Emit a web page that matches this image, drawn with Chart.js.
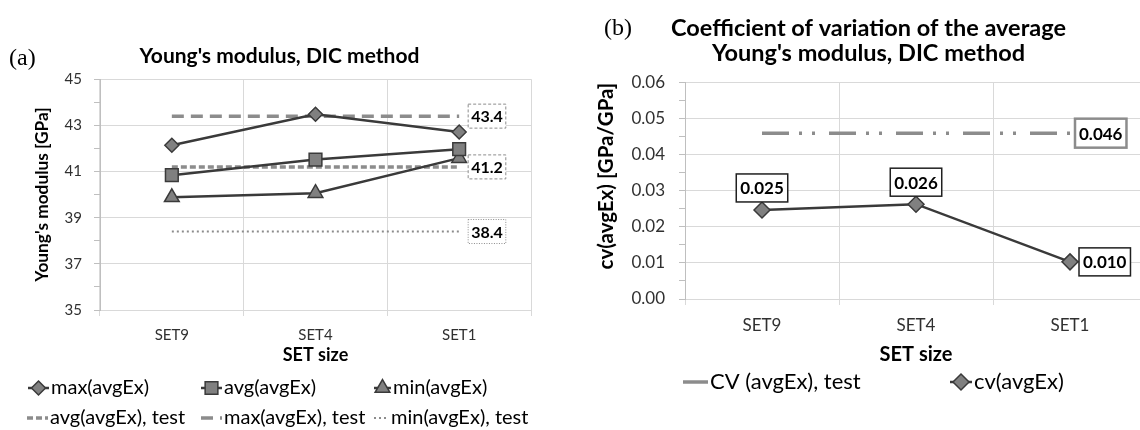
<!DOCTYPE html>
<html>
<head>
<meta charset="utf-8">
<script src="https://cdn.jsdelivr.net/npm/chart.js@4/dist/chart.umd.min.js"></script>
<style>
  html, body { margin: 0; padding: 0; background: #fff; overflow: hidden; }
  body { width: 1140px; height: 430px; position: relative; }
  .wrap { position: absolute; top: 0; width: 580px; height: 430px; }
  #wrapA { left: 0; }
  #wrapB { left: 580px; }
</style>
</head>
<body>
<div class="wrap" id="wrapA"><canvas id="chartA" width="580" height="430"></canvas></div>
<div class="wrap" id="wrapB"><canvas id="chartB" width="580" height="430"></canvas></div>
<script>
// ---- data ----
const categories = ['SET9', 'SET4', 'SET1'];

const maxAvgEx = [42.14, 43.48, 42.71];
const avgAvgEx = [40.84, 41.52, 41.97];
const minAvgEx = [39.88, 40.06, 41.58];
const avgAvgExTest = [41.2, 41.2, 41.2];
const maxAvgExTest = [43.4, 43.4, 43.4];
const minAvgExTest = [38.4, 38.4, 38.4];
const youngTickLabels = [35, 37, 39, 41, 43, 45];

const cvAvgEx = [0.0247, 0.0263, 0.0103];
const cvAvgExTest = [0.046, 0.046, 0.046];
const cvTickLabels = ['0.00', '0.01', '0.02', '0.03', '0.04', '0.05', '0.06'];

const FONT = 'Lato';
const DARK = '#3a3a3a';
const MARK = '#808080';
const TEST = '#8c8c8c';
const GRID = '#d9d9d9';

function drawMarker(ctx, style, x, y, r, fill, stroke, lw) {
    if (!style || !r) return;
    ctx.save();
    ctx.beginPath();
    if (style === 'rectRot') {
        ctx.moveTo(x, y - r); ctx.lineTo(x + r, y); ctx.lineTo(x, y + r); ctx.lineTo(x - r, y);
        ctx.closePath();
    } else if (style === 'rect') {
        const s = r * Math.SQRT1_2;
        ctx.rect(x - s, y - s, 2 * s, 2 * s);
    } else if (style === 'triangle') {
        ctx.moveTo(x, y - r);
        ctx.lineTo(x + r * 0.866, y + r / 2);
        ctx.lineTo(x - r * 0.866, y + r / 2);
        ctx.closePath();
    }
    ctx.fillStyle = fill;
    ctx.fill();
    ctx.setLineDash([]);
    ctx.strokeStyle = stroke;
    ctx.lineWidth = lw;
    ctx.stroke();
    ctx.restore();
}

// labels, excel-like legend and the panel tag
function makeExtras(cfg) {
    return {
        id: 'extras',
        afterDatasetsDraw(chart) {
            const ctx = chart.ctx;
            (cfg.valueLabels || []).forEach(l => {
                const ds = chart.data.datasets[l.dataset];
                const el = chart.getDatasetMeta(l.dataset).data[l.index];
                const text = ds.data[l.index].toFixed(l.decimals);
                ctx.save();
                ctx.font = l.font;
                const w = ctx.measureText(text).width + 2 * l.padX;
                const h = l.height;
                let bx, by;
                if (l.place === 'right') {
                    bx = el.x + l.gap; by = el.y - h / 2;
                } else {
                    bx = el.x - w / 2; by = el.y - l.gap - h;
                }
                ctx.fillStyle = '#fff';
                ctx.fillRect(bx, by, w, h);
                ctx.strokeStyle = l.borderColor;
                ctx.lineWidth = l.borderWidth;
                ctx.setLineDash(l.dash || []);
                ctx.strokeRect(bx, by, w, h);
                ctx.fillStyle = '#000';
                ctx.textAlign = 'center';
                ctx.textBaseline = 'middle';
                ctx.fillText(text, bx + w / 2, by + h / 2 + 1);
                ctx.restore();
            });
        },
        afterDraw(chart) {
            const ctx = chart.ctx;
            (cfg.legend || []).forEach(item => {
                const ds = chart.data.datasets[item.dataset];
                ctx.save();
                ctx.beginPath();
                ctx.strokeStyle = ds.borderColor;
                ctx.lineWidth = ds.borderWidth;
                ctx.setLineDash(ds.borderDash || []);
                ctx.moveTo(item.x, item.y);
                ctx.lineTo(item.x + item.len, item.y);
                ctx.stroke();
                ctx.restore();
                drawMarker(ctx, ds.pointStyle, item.x + item.len / 2, item.y, ds.pointRadius,
                    ds.pointBackgroundColor, ds.pointBorderColor, ds.pointBorderWidth);
                ctx.save();
                ctx.font = cfg.legendFont;
                ctx.fillStyle = '#000';
                ctx.textBaseline = 'middle';
                ctx.fillText(ds.label, item.x + item.len + 2, item.y);
                ctx.restore();
            });
            if (cfg.tag) {
                ctx.save();
                ctx.font = '24px "Liberation Serif"';
                ctx.fillStyle = '#000';
                ctx.textBaseline = 'middle';
                ctx.fillText(cfg.tag.text, cfg.tag.x, cfg.tag.y);
                ctx.restore();
            }
        }
    };
}

function lineSet(label, data, extra) {
    return Object.assign({
        label: label,
        data: data,
        borderColor: DARK,
        borderWidth: 2.5,
        pointBackgroundColor: MARK,
        pointBorderColor: DARK,
        pointBorderWidth: 1.5,
        pointRadius: 7,
        pointHoverRadius: 7,
        tension: 0,
        fill: false
    }, extra);
}

function testSet(label, data, dash, width) {
    return {
        label: label,
        data: data,
        borderColor: TEST,
        borderWidth: width,
        borderDash: dash,
        pointRadius: 0,
        pointStyle: false,
        fill: false
    };
}

// (a) Young's modulus
new Chart(document.getElementById('chartA'), {
    type: 'line',
    data: {
        labels: categories,
        datasets: [
            lineSet('max(avgEx)', maxAvgEx, { pointStyle: 'rectRot', pointRadius: 7 }),
            lineSet('avg(avgEx)', avgAvgEx, { pointStyle: 'rect', pointRadius: 9 }),
            lineSet('min(avgEx)', minAvgEx, { pointStyle: 'triangle', pointRadius: 8.5 }),
            testSet('avg(avgEx), test', avgAvgExTest, [6, 3], 3.5),
            testSet('max(avgEx), test', maxAvgExTest, [12, 7], 3.5),
            testSet('min(avgEx), test', minAvgExTest, [2, 3], 2)
        ]
    },
    options: {
        responsive: false,
        animation: false,
        layout: { padding: { left: 28, right: 49, top: 0, bottom: 60 } },
        plugins: {
            legend: { display: false },
            tooltip: { enabled: false },
            title: {
                display: true,
                text: "Young's modulus, DIC method",
                color: '#000',
                font: { family: FONT, size: 21, weight: 'bold' },
                padding: { top: 44, bottom: 10 }
            }
        },
        scales: {
            x: {
                offset: true,
                grid: { offset: true, color: GRID, tickLength: 6 },
                border: { color: GRID },
                ticks: { color: '#303030', font: { family: FONT, size: 15 }, padding: 10 },
                title: {
                    display: true, text: 'SET size', color: '#000',
                    font: { family: FONT, size: 18, weight: 'bold' },
                    padding: { top: 0, bottom: 4 }
                },
                afterFit: s => { s.height = 60; }
            },
            y: {
                min: 35,
                max: 45,
                ticks: {
                    stepSize: 1,
                    autoSkip: false,
                    color: '#303030',
                    font: { family: FONT, size: 15 },
                    padding: 12,
                    callback: v => youngTickLabels.includes(v) ? String(v) : ''
                },
                grid: {
                    color: c => youngTickLabels.includes(c.tick.value) ? GRID : 'rgba(0,0,0,0)',
                    tickColor: '#bfbfbf',
                    tickLength: 6
                },
                border: { color: '#bfbfbf' },
                title: {
                    display: true, text: "Young's modulus [GPa]", color: '#000',
                    font: { family: FONT, size: 17.3, weight: 'bold' },
                    padding: { top: 4, bottom: 0 }
                },
                afterFit: s => { s.width = 72; }
            }
        }
    },
    plugins: [makeExtras({
        tag: { text: '(a)', x: 9, y: 59 },
        legendFont: '20px ' + FONT,
        legend: [
            { dataset: 0, x: 28, y: 388, len: 21 },
            { dataset: 1, x: 201, y: 388, len: 21 },
            { dataset: 2, x: 374, y: 388, len: 17 },
            { dataset: 3, x: 27, y: 418, len: 21 },
            { dataset: 4, x: 201, y: 418, len: 21 },
            { dataset: 5, x: 374, y: 418, len: 15 }
        ],
        valueLabels: [
            { dataset: 4, index: 2, decimals: 1, place: 'right', gap: 9, height: 24, padX: 3,
              font: 'bold 16px ' + FONT, borderColor: '#8c8c8c', borderWidth: 1, dash: [3, 2] },
            { dataset: 3, index: 2, decimals: 1, place: 'right', gap: 9, height: 24, padX: 3,
              font: 'bold 16px ' + FONT, borderColor: '#8c8c8c', borderWidth: 1, dash: [3, 2] },
            { dataset: 5, index: 2, decimals: 1, place: 'right', gap: 9, height: 24, padX: 3,
              font: 'bold 16px ' + FONT, borderColor: '#8c8c8c', borderWidth: 1, dash: [1, 1.5] }
        ]
    })]
});

// (b) coefficient of variation
new Chart(document.getElementById('chartB'), {
    type: 'line',
    data: {
        labels: categories,
        datasets: [
            testSet('CV (avgEx), test', cvAvgExTest, [27, 10, 3, 10, 3, 14], 3.5),
            lineSet('cv(avgEx)', cvAvgEx, { pointStyle: 'rectRot', pointRadius: 8 })
        ]
    },
    options: {
        responsive: false,
        animation: false,
        layout: { padding: { left: 10, right: 13, top: 0, bottom: 59 } },
        plugins: {
            legend: { display: false },
            tooltip: { enabled: false },
            title: {
                display: true,
                text: ['Coefficient of variation of the average', "Young's modulus, DIC method"],
                color: '#000',
                font: { family: FONT, size: 23.5, weight: 'bold', lineHeight: 1.1 },
                padding: { top: 15, bottom: 16 }
            }
        },
        scales: {
            x: {
                offset: true,
                grid: { offset: true, color: GRID, tickLength: 6 },
                border: { color: GRID },
                ticks: { color: '#303030', font: { family: FONT, size: 17 }, padding: 10 },
                title: {
                    display: true, text: 'SET size', color: '#000',
                    font: { family: FONT, size: 20, weight: 'bold' },
                    padding: { top: 0, bottom: 4 }
                },
                afterFit: s => { s.height = 72; }
            },
            y: {
                min: 0,
                max: 0.06,
                ticks: {
                    stepSize: 0.005,
                    autoSkip: false,
                    color: '#303030',
                    font: { family: FONT, size: 17 },
                    padding: 14,
                    callback: v => {
                        const t = v.toFixed(2);
                        return (Math.round(v * 1000) % 10 === 0 && cvTickLabels.includes(t)) ? t : '';
                    }
                },
                grid: {
                    color: c => Math.round(c.tick.value * 1000) % 10 === 0 ? GRID : 'rgba(0,0,0,0)',
                    tickColor: '#bfbfbf',
                    tickLength: 6
                },
                border: { color: '#bfbfbf' },
                title: {
                    display: true, text: 'cv(avgEx) [GPa/GPa]', color: '#000',
                    align: 'end',
                    font: { family: FONT, size: 20.5, weight: 'bold' },
                    padding: { top: 4, bottom: 0 }
                },
                afterFit: s => { s.width = 95; }
            }
        }
    },
    plugins: [makeExtras({
        tag: { text: '(b)', x: 24, y: 29 },
        legendFont: '22px ' + FONT,
        legend: [
            { dataset: 0, x: 103, y: 382, len: 25 },
            { dataset: 1, x: 370, y: 382, len: 22 }
        ],
        valueLabels: [
            { dataset: 0, index: 2, decimals: 3, place: 'right', gap: 5, height: 29, padX: 4,
              font: 'bold 17px ' + FONT, borderColor: '#8c8c8c', borderWidth: 2.5 },
            { dataset: 1, index: 0, decimals: 3, place: 'above', gap: 8, height: 28, padX: 4,
              font: 'bold 17px ' + FONT, borderColor: '#202020', borderWidth: 1.5 },
            { dataset: 1, index: 1, decimals: 3, place: 'above', gap: 8, height: 28, padX: 4,
              font: 'bold 17px ' + FONT, borderColor: '#202020', borderWidth: 1.5 },
            { dataset: 1, index: 2, decimals: 3, place: 'right', gap: 9, height: 28, padX: 4,
              font: 'bold 17px ' + FONT, borderColor: '#202020', borderWidth: 1.5 }
        ]
    })]
});
</script>
</body>
</html>
